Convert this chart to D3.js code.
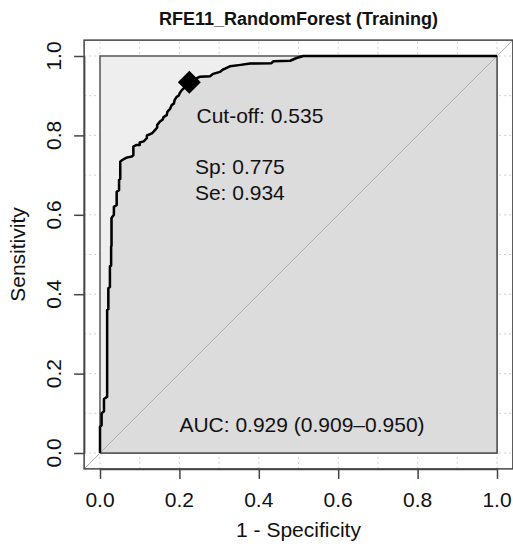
<!DOCTYPE html>
<html>
<head>
  <meta charset="utf-8" />
  <title>RFE11_RandomForest (Training)</title>
  <script src="https://d3js.org/d3.v7.min.js"></script>
  <style>
    body { margin: 0; background: #fff; }
    svg text { font-family: "Liberation Sans", Arial, sans-serif; fill: #111; }
  </style>
</head>
<body>
  <div id="chart"></div>
  <script>
    // ROC curve: 1 - specificity (fpr) and sensitivity (tpr)
    const fpr = [0.000, 0.000, 0.004, 0.004, 0.010, 0.010, 0.018, 0.018, 0.021, 0.021,
                 0.025, 0.025, 0.028, 0.028, 0.029, 0.029, 0.035, 0.035, 0.042, 0.042,
                 0.048, 0.048, 0.051, 0.051, 0.056, 0.067, 0.080, 0.084, 0.084, 0.092,
                 0.100, 0.100, 0.110, 0.118, 0.118, 0.126, 0.132, 0.139, 0.144, 0.144,
                 0.151, 0.158, 0.160, 0.168, 0.170, 0.176, 0.181, 0.186, 0.188, 0.193,
                 0.198, 0.201, 0.206, 0.212, 0.216, 0.225, 0.232, 0.244, 0.252, 0.277,
                 0.285, 0.302, 0.310, 0.315, 0.327, 0.350, 0.378, 0.432, 0.437, 0.479,
                 0.495, 0.512, 1.000];
    const tpr = [0.000, 0.066, 0.070, 0.100, 0.105, 0.136, 0.142, 0.360, 0.362, 0.415,
                 0.418, 0.470, 0.472, 0.520, 0.522, 0.592, 0.600, 0.620, 0.625, 0.658,
                 0.662, 0.688, 0.690, 0.734, 0.738, 0.744, 0.747, 0.750, 0.772, 0.776,
                 0.776, 0.782, 0.785, 0.793, 0.800, 0.803, 0.806, 0.814, 0.820, 0.826,
                 0.835, 0.840, 0.846, 0.851, 0.860, 0.866, 0.877, 0.880, 0.889, 0.897,
                 0.900, 0.907, 0.914, 0.920, 0.927, 0.934, 0.939, 0.944, 0.948, 0.949,
                 0.955, 0.960, 0.966, 0.968, 0.974, 0.977, 0.981, 0.982, 0.987, 0.988,
                 0.995, 1.000, 1.000];

    const bestThreshold = 0.535;
    const bestSp = 0.775;
    const bestSe = 0.934;
    const aucText = "AUC: 0.929 (0.909\u20130.950)";

    const tickValues = [0, 0.2, 0.4, 0.6, 0.8, 1.0];
    const tickLabels = ["0.0", "0.2", "0.4", "0.6", "0.8", "1.0"];
    const gridValues = d3.range(0, 11).map(i => i / 10);

    const width = 513, height = 544;
    const lo = -0.04, hi = 1.04;
    const fs = 21;

    const x = d3.scaleLinear().domain([0, 1]).range([100, 497]);
    const y = d3.scaleLinear().domain([0, 1]).range([453, 56]);

    const svg = d3.select("#chart").append("svg")
      .attr("width", width)
      .attr("height", height)
      .attr("viewBox", [0, 0, width, height]);

    svg.append("rect").attr("width", width).attr("height", height).attr("fill", "#fff");

    // dotted grid over the whole plot region
    const grid = svg.append("g")
      .attr("stroke", "#cfcfcf")
      .attr("stroke-width", 1)
      .attr("stroke-dasharray", "2,3");
    grid.selectAll(".gv").data(gridValues).join("line")
      .attr("x1", d => x(d)).attr("x2", d => x(d))
      .attr("y1", y(lo)).attr("y2", y(hi));
    grid.selectAll(".gh").data(gridValues).join("line")
      .attr("y1", d => y(d)).attr("y2", d => y(d))
      .attr("x1", x(lo)).attr("x2", x(hi));

    // max AUC polygon (unit square)
    svg.append("path")
      .attr("d", d3.line()([[x(0), y(0)], [x(0), y(1)], [x(1), y(1)], [x(1), y(0)]]) + "Z")
      .attr("fill", "#eeeeee")
      .attr("stroke", "#555")
      .attr("stroke-width", 1.5);

    const pts = fpr.map((f, i) => [f, tpr[i]]);

    // AUC polygon under the curve
    const area = d3.area().x(d => x(d[0])).y0(y(0)).y1(d => y(d[1]));
    svg.append("path")
      .datum(pts)
      .attr("d", area)
      .attr("fill", "#dcdcdc")
      .attr("stroke", "#555")
      .attr("stroke-width", 1.5);

    // chance diagonal
    svg.append("line")
      .attr("x1", x(lo)).attr("y1", y(lo))
      .attr("x2", x(hi)).attr("y2", y(hi))
      .attr("stroke", "#b0b0b0")
      .attr("stroke-width", 1);

    // ROC curve
    svg.append("path")
      .datum(pts)
      .attr("d", d3.line().x(d => x(d[0])).y(d => y(d[1])))
      .attr("fill", "none")
      .attr("stroke", "#000")
      .attr("stroke-width", 2.5)
      .attr("stroke-linejoin", "round");

    // best threshold marker
    svg.append("path")
      .attr("d", d3.symbol().type(d3.symbolSquare).size(265)())
      .attr("transform", `translate(${x(1 - bestSp)},${y(bestSe)}) rotate(45)`)
      .attr("fill", "#000");

    const note = svg.append("g").attr("font-size", fs);
    note.append("text").attr("x", x(0.243)).attr("y", y(0.832))
      .text("Cut-off: " + bestThreshold.toFixed(3));
    note.append("text").attr("x", x(0.239)).attr("y", y(0.703))
      .text("Sp: " + bestSp.toFixed(3));
    note.append("text").attr("x", x(0.239)).attr("y", y(0.637))
      .text("Se: " + bestSe.toFixed(3));
    note.append("text").attr("x", x(0.2)).attr("y", y(0.053))
      .text(aucText);

    // plot box
    svg.append("rect")
      .attr("x", x(lo)).attr("y", y(hi))
      .attr("width", x(hi) - x(lo)).attr("height", y(lo) - y(hi))
      .attr("fill", "none")
      .attr("stroke", "#444")
      .attr("stroke-width", 1.5);

    // axes
    const xAxis = svg.append("g")
      .attr("transform", `translate(0,${y(lo)})`)
      .call(d3.axisBottom(x).tickValues(tickValues).tickSize(10).tickSizeOuter(0).tickFormat(""));
    xAxis.selectAll("path, line").attr("stroke", "#444").attr("stroke-width", 1.5);
    svg.append("g").selectAll("text").data(tickValues).join("text")
      .attr("x", d => x(d)).attr("y", 507)
      .attr("text-anchor", "middle")
      .attr("font-size", fs)
      .text((d, i) => tickLabels[i]);

    const yAxis = svg.append("g")
      .attr("transform", `translate(${x(lo)},0)`)
      .call(d3.axisLeft(y).tickValues(tickValues).tickSize(10).tickSizeOuter(0).tickFormat(""));
    yAxis.selectAll("path, line").attr("stroke", "#444").attr("stroke-width", 1.5);
    svg.append("g").selectAll("text").data(tickValues).join("text")
      .attr("transform", d => `translate(61,${y(d)}) rotate(-90)`)
      .attr("text-anchor", "middle")
      .attr("font-size", fs)
      .text((d, i) => tickLabels[i]);

    // titles
    svg.append("text")
      .attr("x", (x(lo) + x(hi)) / 2).attr("y", 25)
      .attr("text-anchor", "middle")
      .attr("font-size", 18)
      .attr("font-weight", "bold")
      .text("RFE11_RandomForest (Training)");
    svg.append("text")
      .attr("x", (x(lo) + x(hi)) / 2).attr("y", 537)
      .attr("text-anchor", "middle")
      .attr("font-size", fs)
      .text("1 - Specificity");
    svg.append("text")
      .attr("transform", `translate(25,${(y(lo) + y(hi)) / 2}) rotate(-90)`)
      .attr("text-anchor", "middle")
      .attr("font-size", fs)
      .text("Sensitivity");
  </script>
</body>
</html>
